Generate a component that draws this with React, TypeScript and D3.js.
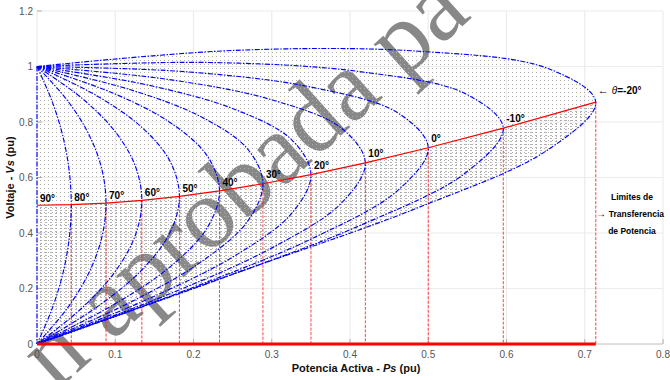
import React from 'react';
import * as d3 from 'd3';

const W = 670;
const H = 380;

// Load power-factor angle of each P–V curve (degrees) and its label
const thetaDeg = [90, 80, 70, 60, 50, 40, 30, 20, 10, 0, -10, -20];
const thetaLabels = ['90°', '80°', '70°', '60°', '50°', '40°', '30°', '20°', '10°', '0°', '-10°'];

const xTicks = [0, 0.1, 0.2, 0.3, 0.4, 0.5, 0.6, 0.7, 0.8];
const yTicks = [0, 0.2, 0.4, 0.6, 0.8, 1, 1.2];

// Active power Ps (pu) and voltage Vs (pu) along each curve, from V = 1 through the nose to V = 0
const p90 = [0, 0, 0];
const v90 = [1, 0.5, 0];
const p80 = [0, 0.0191, 0.0328, 0.041, 0.0438, 0.041, 0.0328, 0.0191, 0];
const v80 = [1, 0.876, 0.7517, 0.627, 0.5019, 0.3766, 0.2512, 0.1256, 0];
const p70 = [0, 0.0384, 0.066, 0.0826, 0.0882, 0.0826, 0.066, 0.0384, 0];
const v70 = [1, 0.8792, 0.7567, 0.6328, 0.5077, 0.3816, 0.2548, 0.1275, 0];
const p60 = [0, 0.0579, 0.0999, 0.1254, 0.134, 0.1254, 0.0999, 0.0579, 0];
const v60 = [1, 0.8846, 0.7654, 0.6429, 0.5176, 0.3902, 0.2611, 0.1308, 0];
const p50 = [0, 0.0778, 0.1351, 0.1702, 0.182, 0.1702, 0.1351, 0.0778, 0];
const v50 = [1, 0.8923, 0.7779, 0.6575, 0.5321, 0.4027, 0.2702, 0.1356, 0];
const p40 = [0, 0.0983, 0.172, 0.2177, 0.2332, 0.2177, 0.172, 0.0983, 0];
const v40 = [1, 0.9027, 0.7947, 0.6772, 0.5517, 0.4196, 0.2825, 0.1421, 0];
const p30 = [0, 0.1196, 0.2113, 0.269, 0.2887, 0.269, 0.2113, 0.1196, 0];
const v30 = [1, 0.9161, 0.8165, 0.7029, 0.5774, 0.4419, 0.2989, 0.1507, 0];
const p20 = [0, 0.1419, 0.2539, 0.3255, 0.3501, 0.3255, 0.2539, 0.1419, 0];
const v20 = [1, 0.933, 0.8443, 0.7359, 0.6104, 0.4707, 0.32, 0.1619, 0];
const p10 = [0, 0.1657, 0.3008, 0.3889, 0.4196, 0.3889, 0.3008, 0.1657, 0];
const v10 = [1, 0.9542, 0.8794, 0.7779, 0.6527, 0.5077, 0.3473, 0.1763, 0];
const p0 = [0, 0.1913, 0.3536, 0.4619, 0.5, 0.4619, 0.3536, 0.1913, 0];
const v0 = [1, 0.9808, 0.9239, 0.8315, 0.7071, 0.5556, 0.3827, 0.1951, 0];
const pm10 = [0, 0.2196, 0.4145, 0.5483, 0.5959, 0.5483, 0.4145, 0.2196, 0];
const vm10 = [1, 1.0145, 0.9808, 0.9007, 0.7779, 0.6182, 0.4291, 0.2198, 0];
const pm20 = [0, 0.2514, 0.4872, 0.654, 0.7141, 0.654, 0.4872, 0.2514, 0];
const vm20 = [1, 1.0579, 1.0551, 0.9918, 0.8717, 0.7017, 0.4914, 0.253, 0];

const curveP = [p90, p80, p70, p60, p50, p40, p30, p20, p10, p0, pm10, pm20];
const curveV = [v90, v80, v70, v60, v50, v40, v30, v20, v10, v0, vm10, vm20];

const FONT = 'Arial, "Liberation Sans", Helvetica, sans-serif';

export default function App() {
  const x = d3.scaleLinear().domain([0, 0.8]).range([37, 663]);
  const y = d3.scaleLinear().domain([0, 1.2]).range([344, 11]);

  const curves: [number, number][][] = curveP.map((ps, i) =>
    ps.map((p, j) => [p, curveV[i][j]] as [number, number])
  );
  const noses = curves.map((c) => c[Math.floor(c.length / 2)]);

  const smooth = d3
    .line<[number, number]>()
    .x((d) => x(d[0]))
    .y((d) => y(d[1]))
    .curve(d3.curveCatmullRom.alpha(0.5));
  const straight = d3
    .line<[number, number]>()
    .x((d) => x(d[0]))
    .y((d) => y(d[1]));

  const outer = curves[curves.length - 1];
  const envelopePath = (smooth(outer) || '') + 'Z';
  const lastNose = noses[noses.length - 1];
  // area below the locus of limits: denser stipple
  const lowerPath =
    (straight(noses) || '') + `L${x(lastNose[0]) + 2},${y(0)}L${x(0)},${y(0)}Z`;

  return (
    <svg
      width={W}
      height={H}
      style={{ position: 'absolute', left: 0, top: 0, background: '#fff' }}
      fontFamily={FONT}
    >
      <defs>
        <pattern id="stipple" width={4} height={4} patternUnits="userSpaceOnUse">
          <rect x={0} y={0} width={1} height={1} fill="#adadad" />
        </pattern>
        <pattern id="stippleDense" width={5} height={3} patternUnits="userSpaceOnUse">
          <rect x={0} y={0} width={2} height={1} fill="#9a9a9a" />
        </pattern>
        <clipPath id="envClip">
          <path d={envelopePath} />
        </clipPath>
        <clipPath id="lowClip">
          <path d={lowerPath} />
        </clipPath>
      </defs>

      {/* grid */}
      <g>
        {xTicks.map((t) => (
          <line key={'gx' + t} x1={x(t)} x2={x(t)} y1={y(0)} y2={y(1.2)} stroke="#ececec" strokeWidth={1.2} />
        ))}
        {yTicks.map((t) => (
          <line key={'gy' + t} x1={x(0)} x2={x(0.8)} y1={y(t)} y2={y(t)} stroke="#ececec" strokeWidth={1.2} />
        ))}
        <line x1={x(0)} x2={x(0.8)} y1={y(0)} y2={y(0)} stroke="#c8c8c8" strokeWidth={1} />
        {xTicks.map((t) => (
          <line key={'tx' + t} x1={x(t)} x2={x(t)} y1={y(0)} y2={y(0) - 5} stroke="#b0b0b0" strokeWidth={1} />
        ))}
        {yTicks.map((t) => (
          <line key={'ty' + t} x1={x(0)} x2={x(0) + 5} y1={y(t)} y2={y(t)} stroke="#b0b0b0" strokeWidth={1} />
        ))}
      </g>

      {/* watermark */}
      <text
        transform="translate(56,392) rotate(-42)"
        fontFamily='"Liberation Serif", "Times New Roman", serif'
        fontSize={100}
        fill="#888888"
      >
        n aprobada pa
      </text>

      {/* stippled family of intermediate curves */}
      <g clipPath="url(#envClip)">
        <rect x={x(0)} y={y(1.2)} width={x(0.8) - x(0)} height={y(0) - y(1.2)} fill="url(#stipple)" />
        <rect
          x={x(0)}
          y={y(1.2)}
          width={x(0.8) - x(0)}
          height={y(0) - y(1.2)}
          fill="url(#stippleDense)"
          clipPath="url(#lowClip)"
          opacity={0.75}
        />
      </g>

      {/* vertical drops from each power transfer limit */}
      {noses.slice(1).map((n, i) => (
        <line
          key={'drop' + i}
          x1={x(n[0])}
          x2={x(n[0])}
          y1={y(n[1])}
          y2={y(0)}
          stroke="#ff2020"
          strokeWidth={1}
          strokeDasharray="3,1.5"
          opacity={0.85}
        />
      ))}

      {/* P–V curves */}
      {curves.map((c, i) => (
        <path
          key={'c' + thetaDeg[i]}
          d={(i === 0 ? straight(c) : smooth(c)) || ''}
          fill="none"
          stroke="#0000ff"
          strokeWidth={1.15}
          strokeDasharray="5,1.5,1.5,1.5"
        />
      ))}

      {/* locus of power transfer limits */}
      <path d={straight(noses) || ''} fill="none" stroke="#ff0000" strokeWidth={1.2} />
      <line x1={x(0)} x2={x(lastNose[0])} y1={y(0)} y2={y(0)} stroke="#ff0000" strokeWidth={3} />

      {/* angle labels */}
      {thetaLabels.map((lab, i) => {
        const n = noses[i];
        const nx = noses[i + 1] || n;
        const pv = noses[i - 1] || n;
        const slope = (y(pv[1]) - y(nx[1])) / Math.max(1, x(nx[0]) - x(pv[0]));
        return (
          <text
            key={'lab' + i}
            x={x(n[0]) + 3}
            y={y(n[1]) - 3.5 - slope * 10}
            fontSize={10}
            fontWeight="bold"
            fill="#000"
          >
            {lab}
          </text>
        );
      })}
      <text x={x(lastNose[0]) + 2} y={y(lastNose[1]) - 8} fontSize={10} fontWeight="bold" fill="#000">
        <tspan fontWeight="normal" fontSize={11}>{'← '}</tspan>
        <tspan fontStyle="italic" fontWeight="normal">θ</tspan>
        {'=-20°'}
      </text>

      <g fontSize={8.5} fontWeight="bold" fill="#000" textAnchor="middle">
        <text x={632} y={200}>Limites de</text>
        <text x={630} y={217}>
          <tspan fontWeight="normal" fontSize={10}>{'→ '}</tspan>Transferencia
        </text>
        <text x={632} y={234}>de Potencia</text>
      </g>

      {/* tick labels */}
      <g fontSize={10} fill="#555">
        {xTicks.map((t) => (
          <text key={'xl' + t} x={x(t)} y={358} textAnchor="middle">
            {d3.format('~g')(t)}
          </text>
        ))}
        {yTicks.map((t) => (
          <text key={'yl' + t} x={33} y={y(t) + 3.5} textAnchor="end">
            {d3.format('~g')(t)}
          </text>
        ))}
      </g>

      {/* axis titles */}
      <text x={356} y={372} fontSize={11} fontWeight="bold" textAnchor="middle" fill="#111">
        {'Potencia Activa -  '}
        <tspan fontStyle="italic">Ps</tspan>
        {' (pu)'}
      </text>
      <text
        transform={`translate(14,${(y(0) + y(1.2)) / 2}) rotate(-90)`}
        fontSize={11}
        fontWeight="bold"
        textAnchor="middle"
        fill="#111"
      >
        {'Voltaje - '}
        <tspan fontStyle="italic">Vs</tspan>
        {' (pu)'}
      </text>
    </svg>
  );
}
